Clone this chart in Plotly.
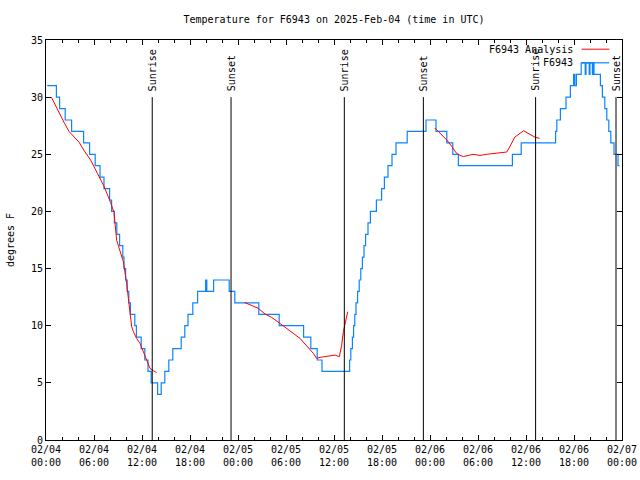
import pandas as pd
import plotly.graph_objects as go

BASE = pd.Timestamp("2025-02-04 00:00")

# Observations (F6943): hours since 2025-02-04 00:00 UTC, value held until next point
obs_hours = [0.15, 1.3, 1.7, 2.4, 3.2, 4.7, 5.45, 6.15, 6.75, 7.25, 7.95, 8.2, 8.55, 8.85,
             9.2, 9.6, 9.75, 9.95, 10.15, 10.35, 10.55, 11.1, 11.3, 11.9, 12.35, 12.75,
             13.15, 13.95, 14.4, 14.85, 15.35, 15.85, 16.9, 17.35, 17.75, 18.35, 18.95,
             19.95, 20.1, 20.95, 22.9, 23.6, 26.6, 29.15, 32.2, 33.1, 33.9, 34.5,
             37.95, 38.1, 38.3, 38.45, 38.6, 38.75, 38.95, 39.15, 39.35, 39.55, 39.75,
             39.95, 40.25, 40.55, 41.3, 41.95, 42.3, 42.75, 43.25, 43.75, 45.15, 47.5,
             48.75, 50.1, 50.85, 51.55, 58.3, 59.4, 63.7, 63.85, 64.3, 65.0, 65.55,
             65.95, 66.1, 66.3, 66.9, 67.4, 67.5, 67.9, 68.0, 68.3, 68.4, 68.5, 69.3,
             69.55, 69.85, 70.1, 70.35, 70.6, 71.0, 71.5, 71.7]
obs_temps = [31, 30, 29, 28, 27, 26, 25, 24, 23, 22, 21, 20, 19, 18,
             17, 16, 15, 14, 13, 12, 11, 10, 9, 8, 7, 6,
             5, 4, 5, 6, 7, 8, 9, 10, 11, 12, 13,
             14, 13, 14, 13, 12, 11, 10, 9, 8, 7, 6,
             7, 8, 9, 10, 11, 12, 13, 14, 15, 16, 17,
             18, 19, 20, 21, 22, 23, 24, 25, 26, 27, 28,
             27, 26, 25, 24, 25, 26, 27, 28, 29, 30, 31,
             32, 31, 32, 33, 32, 33, 32, 33, 32, 33, 32, 31,
             30, 29, 28, 27, 26, 25, 24, 24]

# Analysis (F6943 Analysis): three separate runs
ana_hours = [0.67, 1.42, 2.25, 2.875, 4.125, 4.75, 5.58, 6.42, 7.25, 8.08, 8.5, 8.83,
             9.25, 9.67, 10.08, 10.29, 10.5, 10.71, 10.92, 11.33, 11.75, 12.17, 12.58,
             13.0, 13.42, 13.83, None,
             24.79, 25.92, 26.54, 27.38, 28.21, 29.25, 30.08, 31.75, 33.42, 33.83,
             34.25, 35.5, 36.13, 36.67, 36.96, 37.17, 37.38, 37.71, None,
             48.6, 49.0, 50.1, 50.7, 51.3, 51.75, 52.2, 53.4, 54.25, 55.1, 56.75,
             57.6, 58.0, 58.6, 59.7, 60.5, 61.1, 61.7]
ana_temps = [30.0, 28.9, 27.8, 27.0, 26.06, 25.34, 24.49, 23.34, 22.2, 20.77, 19.91, 17.49,
             16.62, 15.6, 13.7, 12.54, 11.37, 9.91, 9.48, 8.89, 8.45, 7.73, 7.0,
             6.27, 6.06, 5.89, None,
             12.04, 11.66, 11.52, 11.02, 10.73, 10.2, 9.77, 8.89, 7.58, 7.14,
             7.23, 7.38, 7.43, 7.29, 8.3, 9.48, 10.2, 11.22, None,
             27.3, 27.0, 26.25, 25.7, 25.1, 24.9, 24.8, 25.0, 24.9, 25.0, 25.1,
             25.2, 25.7, 26.5, 27.06, 26.7, 26.5, 26.4]

sun_hours = [13.28, 23.13, 37.29, 47.17, 61.2, 71.25]
sun_labels = ["Sunrise", "Sunset", "Sunrise", "Sunset", "Sunrise", "Sunset"]
sun_line_top = 30

y_ticks = [0, 5, 10, 15, 20, 25, 30, 35]


def to_time(hours):
    return [None if h is None else BASE + pd.Timedelta(hours=h) for h in hours]


FONT = "DejaVu Sans Mono"
BLUE = "#0a84ff"
RED = "#ff0000"

fig = go.Figure()
fig.add_trace(go.Scatter(x=to_time(obs_hours), y=obs_temps, mode="lines",
                         line=dict(color=BLUE, width=1.2, shape="hv"),
                         name="F6943", showlegend=False))
fig.add_trace(go.Scatter(x=to_time(ana_hours), y=ana_temps, mode="lines",
                         line=dict(color=RED, width=1), connectgaps=False,
                         name="F6943 Analysis", showlegend=False))

for h, lab in zip(sun_hours, sun_labels):
    t = BASE + pd.Timedelta(hours=h)
    fig.add_shape(type="line", xref="x", yref="y", x0=t, x1=t, y0=0, y1=sun_line_top,
                  line=dict(color="black", width=1))
    fig.add_annotation(x=t, y=sun_line_top, xref="x", yref="y", text=lab,
                       textangle=-90, showarrow=False, yanchor="bottom", xanchor="center",
                       yshift=4, font=dict(family=FONT, size=10, color="black"))

# gnuplot-style key (text left of sample line)
key = [("F6943 Analysis", RED, 0.977), ("F6943", BLUE, 0.943)]
for txt, col, yp in key:
    fig.add_annotation(x=0.919, y=yp, xref="paper", yref="paper", text=txt,
                       showarrow=False, xanchor="right", yanchor="middle",
                       font=dict(family=FONT, size=10, color="black"))
    fig.add_shape(type="line", xref="paper", yref="paper", x0=0.930, x1=0.978,
                  y0=yp, y1=yp, line=dict(color=col, width=1.2 if col == BLUE else 1))

fig.update_layout(
    width=640, height=480,
    margin=dict(l=46, r=18, t=40, b=40, autoexpand=False),
    paper_bgcolor="white", plot_bgcolor="white",
    font=dict(family=FONT, size=10, color="black"),
    title=dict(text="Temperature for F6943 on 2025-Feb-04 (time in UTC)",
               x=0.5, xref="paper", xanchor="center", y=1 - 19 / 480, yref="container",
               yanchor="middle", font=dict(family=FONT, size=10, color="black")),
)

fig.update_xaxes(
    type="date", automargin=False,
    range=[BASE, BASE + pd.Timedelta(hours=72)],
    tickmode="linear", tick0=BASE, dtick=6 * 3600 * 1000,
    tickformat="%m/%d<br>%H:%M",
    ticks="inside", ticklen=5, tickcolor="black", tickwidth=1,
    minor=dict(tickmode="linear", tick0=BASE, dtick=2 * 3600 * 1000, ticks="inside",
               ticklen=3, tickcolor="black", showgrid=False),
    showline=True, linecolor="black", linewidth=1, mirror="allticks",
    showgrid=False, zeroline=False,
    tickfont=dict(family=FONT, size=10, color="black"),
)
fig.update_yaxes(
    automargin=False,
    range=[0, 35], tickmode="array", tickvals=y_ticks,
    ticks="inside", ticklen=5, tickcolor="black", tickwidth=1,
    showline=True, linecolor="black", linewidth=1, mirror="allticks",
    showgrid=False, zeroline=False,
    title=dict(text="degrees F", standoff=14, font=dict(family=FONT, size=10, color="black")),
    tickfont=dict(family=FONT, size=10, color="black"),
)

fig.write_html("out.html", config={"displayModeBar": False},
               post_script="document.body.style.margin='0';")
